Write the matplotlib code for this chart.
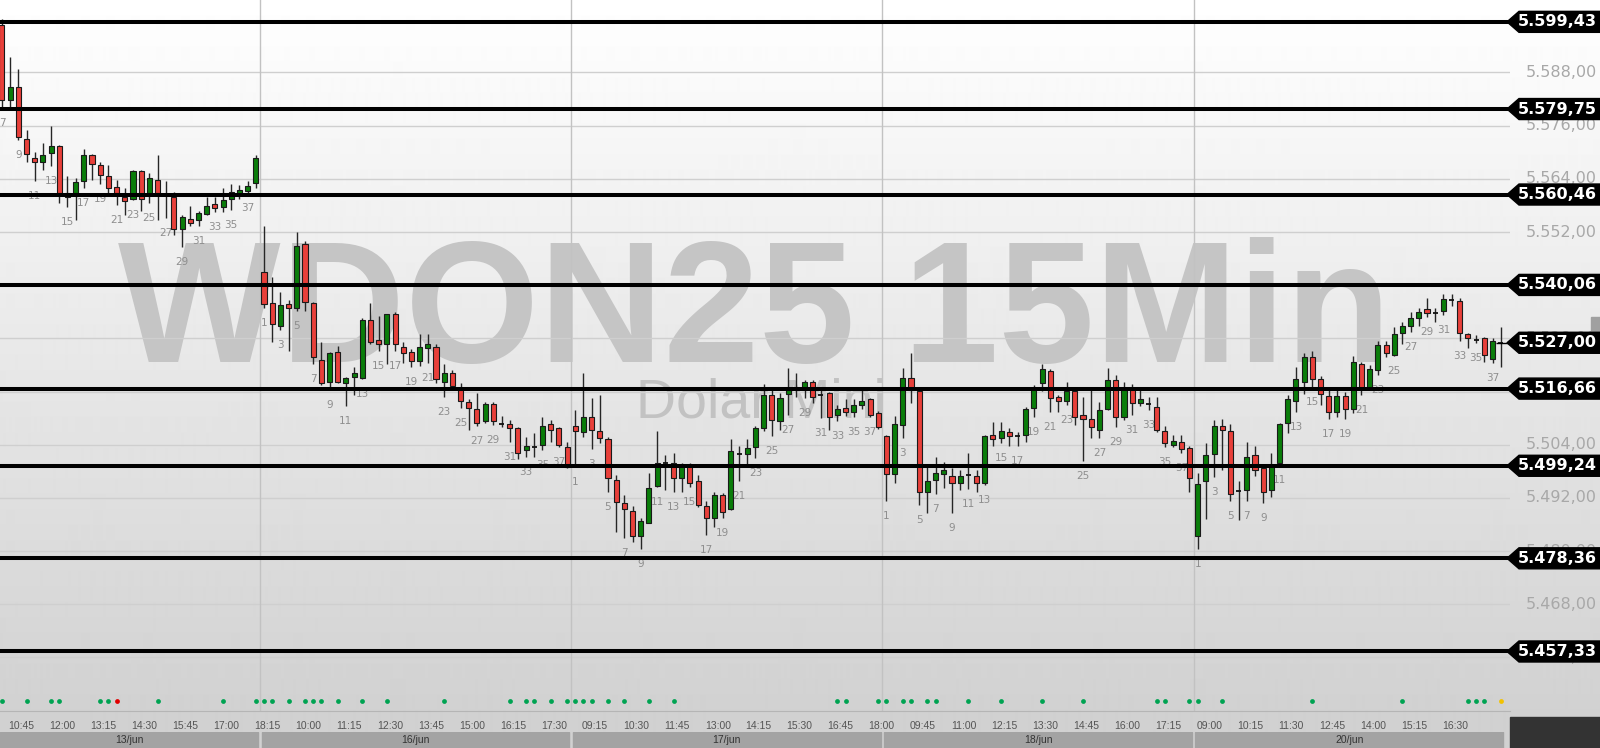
import numpy as np
import matplotlib
matplotlib.use("Agg")
import matplotlib.pyplot as plt
import matplotlib.transforms as mtrans
from matplotlib.patches import Rectangle, Polygon

# ---- data (15 min candles, O H L C) ----
days = ["13/jun", "16/jun", "17/jun", "18/jun", "20/jun"]
first_candle = [7, 1, 1, 1, 1]   # 13/jun starts cut off at candle 7

jun13 = [(5598.7, 5600.0, 5580.0, 5581.8), (5581.8, 5591.5, 5580.0, 5584.8), (5584.8, 5588.9, 5572.8, 5573.4),
         (5573.1, 5575.0, 5567.9, 5569.5), (5568.6, 5570.1, 5563.4, 5567.9), (5567.9, 5572.2, 5566.0, 5569.3),
         (5569.9, 5576.0, 5567.0, 5571.3), (5571.3, 5571.6, 5558.5, 5560.7), (5560.0, 5564.6, 5557.6, 5560.2),
         (5560.7, 5564.3, 5554.6, 5563.3), (5563.5, 5570.7, 5561.9, 5569.3), (5569.3, 5569.6, 5563.7, 5567.3),
         (5567.1, 5567.7, 5562.8, 5564.9), (5564.6, 5567.1, 5560.7, 5562.0), (5562.2, 5563.7, 5558.1, 5560.7),
         (5560.0, 5561.9, 5555.8, 5559.1), (5559.4, 5566.0, 5559.2, 5565.8), (5565.8, 5566.0, 5556.8, 5559.4),
         (5560.7, 5565.3, 5558.5, 5564.3), (5563.7, 5569.4, 5554.6, 5560.7), (5560.3, 5563.4, 5555.1, 5560.3),
         (5560.0, 5561.1, 5551.3, 5552.6), (5552.6, 5555.8, 5548.7, 5555.3), (5554.9, 5557.9, 5553.4, 5554.1),
         (5554.7, 5556.8, 5553.4, 5556.4), (5556.1, 5560.0, 5555.8, 5557.9), (5557.9, 5560.0, 5556.5, 5557.4),
         (5557.6, 5561.9, 5556.6, 5559.2), (5559.4, 5562.8, 5557.0, 5561.1), (5560.6, 5562.5, 5559.4, 5561.1),
         (5561.3, 5563.4, 5560.7, 5562.4), (5563.0, 5569.4, 5561.9, 5568.6)]

jun16 = [(5543.0, 5553.4, 5534.8, 5535.7), (5535.9, 5541.9, 5527.2, 5531.2), (5530.8, 5538.5, 5529.9, 5535.5),
         (5535.5, 5536.7, 5525.2, 5534.8), (5534.8, 5551.9, 5534.2, 5548.8), (5549.4, 5550.0, 5534.2, 5536.2),
         (5535.9, 5536.2, 5522.2, 5523.9), (5523.1, 5527.1, 5517.5, 5517.9), (5518.2, 5525.0, 5516.3, 5524.6),
         (5525.0, 5526.3, 5517.9, 5518.2), (5517.9, 5519.2, 5512.8, 5519.0), (5519.2, 5521.5, 5515.2, 5519.7),
         (5519.0, 5532.7, 5518.8, 5532.1), (5532.1, 5536.0, 5526.7, 5527.2), (5527.1, 5533.1, 5525.2, 5526.7),
         (5526.7, 5533.6, 5522.2, 5533.4), (5533.4, 5534.0, 5525.2, 5526.7), (5526.1, 5527.2, 5522.4, 5524.8),
         (5525.0, 5525.6, 5521.6, 5522.9), (5522.9, 5529.0, 5521.8, 5526.1), (5525.8, 5529.0, 5522.4, 5526.1),
         (5526.1, 5526.7, 5517.9, 5518.8), (5518.2, 5522.2, 5514.8, 5520.1), (5520.1, 5520.9, 5516.3, 5517.2),
         (5516.5, 5518.0, 5512.3, 5513.9), (5513.6, 5514.2, 5507.3, 5512.3), (5512.0, 5515.6, 5508.3, 5508.8),
         (5509.3, 5513.7, 5508.8, 5513.1), (5513.1, 5513.7, 5508.4, 5509.3), (5508.6, 5510.5, 5507.9, 5508.6),
         (5508.7, 5509.6, 5504.7, 5507.8), (5507.7, 5507.9, 5500.8, 5502.2), (5502.8, 5505.8, 5501.3, 5503.3),
         (5503.5, 5506.7, 5501.3, 5503.5), (5503.9, 5510.2, 5502.8, 5508.2), (5508.6, 5509.6, 5504.7, 5507.3),
         (5507.7, 5508.1, 5503.5, 5503.9), (5503.5, 5504.7, 5498.7, 5498.9)]

jun17 = [(5508.2, 5511.8, 5499.0, 5507.2), (5506.9, 5520.1, 5505.8, 5510.2), (5510.2, 5514.5, 5503.0, 5507.3),
         (5507.1, 5515.2, 5504.4, 5505.4), (5505.2, 5505.7, 5493.4, 5496.4), (5496.0, 5497.2, 5484.4, 5491.0),
         (5490.8, 5492.6, 5482.9, 5489.4), (5489.1, 5490.2, 5482.0, 5483.5), (5483.5, 5487.5, 5480.4, 5486.8),
         (5486.4, 5497.7, 5486.3, 5494.2), (5494.7, 5507.2, 5494.4, 5499.9), (5499.9, 5501.7, 5493.8, 5499.9),
         (5499.9, 5502.1, 5493.4, 5496.4), (5496.4, 5499.9, 5493.4, 5499.4), (5499.4, 5499.9, 5494.4, 5495.3),
         (5495.8, 5497.2, 5490.0, 5490.4), (5490.2, 5491.4, 5483.6, 5487.4), (5487.4, 5493.4, 5485.4, 5492.6),
         (5492.6, 5493.0, 5487.4, 5488.9), (5489.4, 5505.2, 5489.3, 5502.6), (5502.0, 5503.7, 5495.9, 5502.0),
         (5501.9, 5505.2, 5499.0, 5503.2), (5503.4, 5508.2, 5500.9, 5507.7), (5507.7, 5517.7, 5507.2, 5515.2),
         (5515.2, 5516.5, 5506.0, 5509.6), (5509.4, 5515.6, 5507.3, 5514.6), (5515.4, 5521.2, 5510.7, 5516.5),
         (5516.5, 5520.2, 5514.8, 5516.5), (5516.3, 5518.6, 5514.5, 5518.1), (5518.1, 5518.6, 5513.3, 5514.8),
         (5515.2, 5516.3, 5510.0, 5515.2), (5515.6, 5515.9, 5507.3, 5510.3), (5510.7, 5512.9, 5509.4, 5512.0),
         (5512.0, 5514.2, 5510.5, 5511.3), (5511.3, 5514.2, 5510.3, 5512.9), (5512.9, 5516.3, 5512.0, 5513.7),
         (5514.2, 5514.6, 5510.2, 5510.7), (5511.1, 5511.5, 5507.6, 5507.9)]

jun18 = [(5506.0, 5506.3, 5491.3, 5497.3), (5497.3, 5510.5, 5495.3, 5508.6), (5508.4, 5521.2, 5505.4, 5519.0),
         (5519.0, 5524.6, 5513.3, 5516.3), (5516.1, 5516.5, 5490.4, 5493.4), (5493.4, 5499.4, 5488.5, 5495.8),
         (5496.0, 5501.3, 5492.8, 5497.7), (5497.4, 5500.2, 5494.2, 5497.7), (5497.0, 5498.7, 5488.5, 5495.4),
         (5495.4, 5498.3, 5493.8, 5497.0), (5497.2, 5502.1, 5494.0, 5497.2), (5497.0, 5498.3, 5493.4, 5495.4),
         (5495.4, 5506.3, 5494.9, 5506.0), (5505.6, 5509.2, 5503.7, 5505.3), (5505.4, 5509.2, 5504.3, 5507.1),
         (5506.7, 5507.7, 5503.8, 5506.0), (5506.0, 5506.8, 5503.8, 5506.0), (5506.3, 5512.6, 5504.7, 5512.0),
         (5512.3, 5517.5, 5510.3, 5516.6), (5517.9, 5522.2, 5516.1, 5521.1), (5520.6, 5521.1, 5511.4, 5514.5),
         (5514.2, 5515.2, 5511.4, 5513.9), (5513.9, 5518.2, 5513.0, 5516.1), (5516.1, 5516.4, 5508.4, 5510.3),
         (5510.2, 5514.7, 5500.4, 5509.8), (5509.7, 5517.1, 5505.4, 5507.9), (5507.3, 5513.7, 5505.4, 5511.8),
         (5512.0, 5521.2, 5511.8, 5518.6), (5518.6, 5519.7, 5507.9, 5510.3), (5510.3, 5518.2, 5509.6, 5516.9),
         (5516.7, 5517.7, 5510.7, 5513.3), (5513.3, 5516.3, 5512.8, 5513.7), (5513.1, 5514.7, 5511.8, 5513.1),
         (5512.6, 5514.7, 5506.9, 5507.3), (5507.1, 5508.2, 5503.5, 5504.4), (5504.0, 5506.2, 5503.4, 5504.6),
         (5504.6, 5506.2, 5502.2, 5503.0), (5503.2, 5503.7, 5493.4, 5496.4)]

jun20 = [(5483.5, 5497.5, 5480.5, 5495.1), (5495.9, 5504.3, 5487.2, 5501.7), (5501.9, 5509.6, 5496.8, 5508.3),
         (5508.3, 5509.7, 5498.3, 5507.3), (5507.1, 5508.7, 5491.3, 5492.9), (5493.6, 5495.9, 5486.9, 5493.6),
         (5493.8, 5504.5, 5491.3, 5501.2), (5501.7, 5503.7, 5496.9, 5498.4), (5498.7, 5499.0, 5490.9, 5493.4),
         (5493.8, 5502.2, 5492.3, 5499.4), (5499.8, 5509.0, 5499.5, 5508.7), (5508.8, 5515.2, 5506.6, 5514.3),
         (5513.9, 5521.5, 5511.4, 5518.8), (5518.2, 5524.6, 5515.4, 5523.7), (5523.7, 5525.2, 5517.0, 5518.8),
         (5518.8, 5519.5, 5513.0, 5515.4), (5515.1, 5516.7, 5509.8, 5511.3), (5511.3, 5516.7, 5510.3, 5515.1),
         (5515.1, 5515.8, 5509.8, 5512.0), (5512.0, 5524.0, 5511.1, 5522.7), (5522.1, 5522.7, 5515.2, 5516.6),
         (5516.6, 5522.0, 5516.3, 5521.1), (5520.9, 5527.5, 5519.7, 5526.5), (5526.5, 5527.5, 5523.7, 5524.8),
         (5524.2, 5530.5, 5524.1, 5529.0), (5529.3, 5531.6, 5526.7, 5530.9), (5530.9, 5533.9, 5529.5, 5532.5),
         (5532.7, 5534.9, 5530.9, 5534.0), (5534.6, 5537.0, 5532.9, 5533.7), (5533.7, 5534.9, 5531.8, 5533.7),
         (5534.2, 5538.0, 5533.3, 5536.9), (5536.7, 5538.0, 5535.3, 5536.7), (5536.5, 5537.0, 5527.4, 5529.3),
         (5528.6, 5529.1, 5525.8, 5528.1), (5527.6, 5528.8, 5527.0, 5527.6), (5528.0, 5528.2, 5522.7, 5524.2),
         (5523.3, 5528.0, 5522.5, 5527.5), (5527.0, 5530.5, 5521.6, 5527.0)]

candles_by_day = [jun13, jun16, jun17, jun18, jun20]

# signal dots under the candles (candle numbers per day)
dots_green = [[7, 10, 13, 14, 19, 20, 26, 34, 38],
              [1, 2, 4, 6, 7, 8, 10, 13, 16, 23, 31, 33, 34, 36, 38],
              [1, 2, 3, 5, 7, 10, 13, 33, 34, 38],
              [1, 3, 4, 6, 7, 11, 15, 20, 25, 34, 35, 38],
              [1, 4, 15, 26, 34, 35, 36]]
dots_red = [[21], [], [], [], []]
dots_yellow = [[], [], [], [], [38]]

levels = [5599.43, 5579.75, 5560.46, 5540.06, 5516.66, 5499.24, 5478.36, 5457.33]
last_price = 5527.00
price_ticks = [5456, 5468, 5480, 5492, 5504, 5516, 5528, 5540, 5552, 5564, 5576, 5588]

time_labels = ["10:45", "12:00", "13:15", "14:30", "15:45", "17:00", "18:15", "10:00", "11:15",
               "12:30", "13:45", "15:00", "16:15", "17:30", "09:15", "10:30", "11:45", "13:00",
               "14:15", "15:30", "16:45", "18:00", "09:45", "11:00", "12:15", "13:30", "14:45",
               "16:00", "17:15", "09:00", "10:15", "11:30", "12:45", "14:00", "15:15", "16:30"]

# ---- look ----
W, H = 1600, 748
PLOT_W, PLOT_H = 1510, 711          # pixel size of the candle area
per_day = 38
red = "#e8403a"
green = "#0a7d0a"


def fmt(v):
    s = "{:,.2f}".format(v)
    return s.replace(",", "X").replace(".", ",").replace("X", ".")


fig = plt.figure(figsize=(W / 100, H / 100), dpi=100)

# background gradient + watermark
bg = fig.add_axes([0, 0, 1, 1])
rows = np.arange(H)
shade = np.where(rows < PLOT_H, 1.0 - 0.18 * rows / PLOT_H, 0.82)
bg.imshow(np.repeat(shade[:, None], 2, axis=1), cmap="gray", vmin=0, vmax=1,
          aspect="auto", extent=[0, 1, 0, 1], interpolation="bilinear")
bg.set_xlim(0, 1)
bg.set_ylim(0, 1)
bg.axis("off")
bg.text(754 / W, 1 - 362 / H, "WDON25 15Min", family="Liberation Sans", weight="bold",
        fontsize=124, color="#c5c5c5", ha="center", va="baseline")
bg.text(761 / W, 1 - 417 / H, "Dolar Mini", family="Liberation Sans",
        fontsize=40, color="#c2c2c2", ha="center", va="baseline")
bg.add_patch(Rectangle((1510 / W, 0), 90 / W, 31 / H, color="#333333"))
bg.add_patch(Rectangle((1591 / W, 1 - 345 / H), 9 / W, 28 / H, color="#a0a0a0"))

ax = fig.add_axes([0, 1 - PLOT_H / H, PLOT_W / W, PLOT_H / H])
ax.patch.set_alpha(0)
x_left = 47.2 / 8.19
x_right = (PLOT_W + 47.2) / 8.19
ax.set_xlim(x_left, x_right)
ax.set_ylim(5443.9, 5604.36)
for s in ["top", "left", "right"]:
    ax.spines[s].set_visible(False)
ax.spines["bottom"].set_color("#b5b5b5")
ax.spines["bottom"].set_linewidth(0.8)
ax.set_yticks([])

# grid
for p in price_ticks:
    ax.axhline(p, color="#cfcfcf", lw=1, zorder=0)
for d in range(1, len(days)):
    ax.axvline(d * per_day - 0.5, color="#c2c2c2", lw=1, zorder=0)

# candles
bw = 0.62
px_per_unit = PLOT_H / (5604.36 - 5443.9)
for d, day in enumerate(candles_by_day):
    for i, (o, h, l, c) in enumerate(day):
        k = first_candle[d] + i
        g = d * per_day + k - 1
        ax.vlines(g, l, h, color="#262626", lw=1, zorder=2)
        if abs(c - o) < 0.05:
            ax.hlines(o, g - bw / 2, g + bw / 2, color="#111111", lw=1.3, zorder=3)
        else:
            col = green if c > o else red
            ax.add_patch(Rectangle((g - bw / 2, min(o, c)), bw, max(abs(c - o), 0.9),
                                   facecolor=col, edgecolor="#1a1a1a", lw=0.8, zorder=3))
        if k % 2 == 1:
            ax.annotate(str(k), (g, l), xytext=(0, -15), textcoords="offset pixels",
                        ha="center", va="center", fontsize=7.5, color="#8e8e8e", zorder=2)

# signal dots
dot_tr = mtrans.blended_transform_factory(ax.transData, ax.transAxes)
for lists, col in [(dots_green, "#00a352"), (dots_red, "#e00000"), (dots_yellow, "#f2c200")]:
    for d, ks in enumerate(lists):
        xs = [d * per_day + k - 1 for k in ks]
        ax.scatter(xs, [10 / PLOT_H] * len(xs), s=12, color=col, transform=dot_tr,
                   zorder=3, clip_on=False, linewidths=0)

# support / resistance lines with price tags
tag_tr = mtrans.blended_transform_factory(fig.transFigure, ax.transData)
half = 10.5 / px_per_unit
for p in price_ticks:
    ax.text(1597 / W, p, fmt(p), transform=tag_tr, ha="right", va="center",
            fontsize=11.5, color="#a8a8a8", zorder=3)


def tag(p):
    pts = [(1507 / W, p), (1519 / W, p + half), (1.0, p + half), (1.0, p - half), (1519 / W, p - half)]
    ax.add_patch(Polygon(pts, closed=True, facecolor="black", edgecolor="black",
                         transform=tag_tr, clip_on=False, zorder=6))
    ax.text(1597 / W, p, fmt(p), transform=tag_tr, ha="right", va="center",
            fontsize=11.5, weight="bold", color="white", zorder=7)


for p in levels:
    ax.axhline(p, color="black", lw=2.9, zorder=5)
    tag(p)
ax.hlines(last_price, len(days) * per_day - 1.6, x_right, color="black", lw=1, zorder=5)
tag(last_price)

# time axis
ax.set_xticks([8.4 + 5 * i for i in range(len(time_labels))])
ax.set_xticklabels(time_labels, family="Liberation Sans")
ax.tick_params(axis="x", length=0, pad=7, labelsize=7.5, labelcolor="#555555")

# date bar
dax = fig.add_axes([0, 0, PLOT_W / W, 16 / H])
dax.set_xlim(x_left, x_right)
dax.set_ylim(0, 1)
dax.axis("off")
for d, name in enumerate(days):
    lo = max(d * per_day - 0.5 + 0.22, x_left)
    hi = min(d * per_day + per_day - 0.5 - 0.22, x_right)
    dax.add_patch(Rectangle((lo, 0), hi - lo, 1, color="#a3a3a3"))
    dax.text((lo + hi) / 2, 0.5, name, ha="center", va="center", fontsize=7.5,
             color="#333333", family="Liberation Sans")

fig.savefig("out.png", dpi=100)
